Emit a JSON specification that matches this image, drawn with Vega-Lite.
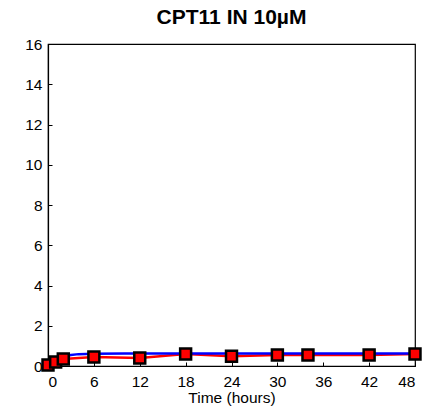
{
  "$schema": "https://vega.github.io/schema/vega-lite/v6.json",
  "width": 367,
  "height": 322,
  "autosize": {"type": "none"},
  "padding": {"left": 48, "top": 44, "right": 14, "bottom": 49},
  "background": "white",
  "title": {"text": "CPT11 IN 10µM", "font": "Liberation Sans", "fontSize": 21, "fontWeight": "bold", "color": "black", "offset": 9, "anchor": "middle"},
  "config": {
    "view": {"stroke": "black", "strokeWidth": 1.2},
    "axis": {"domainColor": "black", "domainWidth": 1.2, "tickColor": "black", "labelColor": "black", "titleColor": "black", "labelFont": "Liberation Sans", "titleFont": "Liberation Sans", "labelFontSize": 15.5, "titleFontSize": 15.5, "titleFontWeight": "normal", "grid": false, "tickSize": -4}
  },
  "datasets": {
    "obs": [
      {"t": 0, "v": 0.05}, {"t": 1, "v": 0.2}, {"t": 2, "v": 0.35}, {"t": 6, "v": 0.45},
      {"t": 12, "v": 0.4}, {"t": 18, "v": 0.6}, {"t": 24, "v": 0.48}, {"t": 30, "v": 0.55},
      {"t": 34, "v": 0.55}, {"t": 42, "v": 0.55}, {"t": 48, "v": 0.6}
    ],
    "fit": [
      {"t": 0, "v": 0.05}, {"t": 0.5, "v": 0.2}, {"t": 1, "v": 0.32}, {"t": 1.5, "v": 0.41},
      {"t": 2, "v": 0.47}, {"t": 3, "v": 0.55}, {"t": 4, "v": 0.59}, {"t": 6, "v": 0.61},
      {"t": 10, "v": 0.62}, {"t": 48, "v": 0.62}
    ]
  },
  "layer": [
    {
      "data": {"name": "obs"},
      "mark": {"type": "line", "color": "#ff0000", "strokeWidth": 2.5, "clip": true},
      "encoding": {
        "x": {"field": "t", "type": "quantitative", "scale": {"domain": [0, 48], "nice": false}, "axis": {"values": [0, 6, 12, 18, 24, 30, 36, 42, 48], "title": "Time (hours)", "titlePadding": 1, "labelPadding": 12}},
        "y": {"field": "v", "type": "quantitative", "scale": {"domain": [0, 16], "nice": false}, "axis": {"values": [0, 2, 4, 6, 8, 10, 12, 14, 16], "title": null, "labelPadding": 10}}
      }
    },
    {
      "data": {"name": "fit"},
      "mark": {"type": "line", "color": "#0000ff", "strokeWidth": 2.5, "clip": true},
      "encoding": {
        "x": {"field": "t", "type": "quantitative"},
        "y": {"field": "v", "type": "quantitative"}
      }
    },
    {
      "data": {"name": "obs"},
      "mark": {"type": "square", "fill": "#ff0000", "stroke": "black", "strokeWidth": 2.5, "size": 120, "opacity": 1, "filled": true},
      "encoding": {
        "x": {"field": "t", "type": "quantitative"},
        "y": {"field": "v", "type": "quantitative"}
      }
    }
  ]
}
